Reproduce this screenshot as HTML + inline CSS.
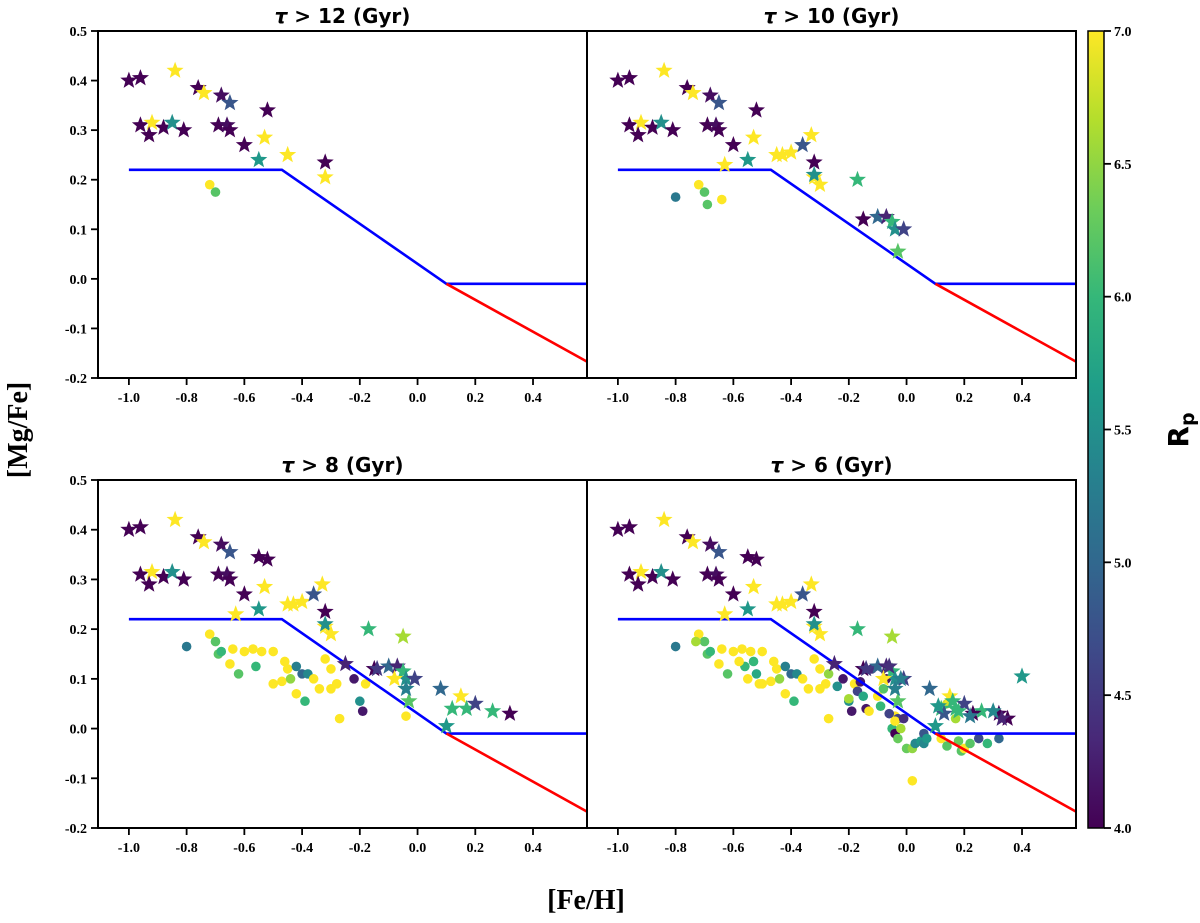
<!DOCTYPE html>
<html><head><meta charset="utf-8"><style>
body{margin:0;background:#fff;}
svg text{font-family:"Liberation Serif",serif;font-weight:bold;}
</style></head><body>
<svg id="c" width="1200" height="918" xmlns="http://www.w3.org/2000/svg"></svg>
<script>
const starFe = [-1.0,-0.96,-0.84,-0.76,-0.74,-0.68,-0.65,-0.96,-0.92,-0.93,-0.88,-0.85,-0.81,-0.69,-0.66,-0.65,-0.52,-0.53,-0.6,-0.55,-0.45,-0.32,-0.32,
 -0.63,-0.43,-0.40,-0.36,-0.33,-0.32,-0.30,-0.17,-0.15,-0.10,-0.07,-0.05,-0.04,-0.01,-0.03,
 -0.55,0.08,0.12,0.10,0.15,0.17,0.20,0.26,0.32,-0.05,-0.04,-0.08,-0.25,-0.14,
 0.40,0.35,0.33,0.30,0.23,0.22,0.18,0.13,-0.02,-0.06,0.16,0.11];
const starMg = [0.40,0.405,0.42,0.385,0.375,0.37,0.355,0.31,0.315,0.29,0.305,0.315,0.30,0.31,0.31,0.30,0.34,0.285,0.27,0.24,0.25,0.235,0.205,
 0.23,0.25,0.255,0.27,0.29,0.21,0.19,0.20,0.12,0.125,0.125,0.115,0.10,0.10,0.055,
 0.345,0.08,0.04,0.005,0.065,0.04,0.05,0.035,0.03,0.185,0.08,0.10,0.13,0.12,
 0.105,0.02,0.02,0.035,0.03,0.025,0.035,0.03,0.10,0.125,0.055,0.045];
const starRp = [4.0,4.0,7.0,4.0,7.0,4.1,4.8,4.0,7.0,4.0,4.0,5.5,4.0,4.0,4.1,4.0,4.0,7.0,4.0,5.6,7.0,4.0,7.0,
 7.0,7.0,7.0,4.8,7.0,5.5,7.0,6.0,4.0,5.0,4.3,6.0,5.5,4.6,6.2,
 4.0,5.0,6.0,5.6,7.0,6.0,4.6,6.0,4.0,6.6,5.3,7.0,4.3,4.5,
 5.6,4.0,4.3,5.4,4.0,5.2,6.0,4.8,5.3,4.4,6.0,5.6];
const starAge = [12,12,12,12,12,12,12,12,12,12,12,12,12,12,12,12,12,12,12,12,12,12,12,
 10,10,10,10,10,10,10,10,10,10,10,10,10,10,10,
 8,8,8,8,8,8,8,8,8,8,8,8,8,8,
 6,6,6,6,6,6,6,6,6,6,6,6];
const circFe = [-0.72,-0.70,
 -0.80,-0.69,-0.64,
 -0.68,-0.65,-0.60,-0.62,-0.57,-0.56,-0.54,-0.50,-0.50,-0.47,-0.46,-0.45,-0.44,-0.42,-0.42,-0.40,-0.38,-0.39,-0.36,-0.34,-0.30,-0.30,-0.32,-0.28,-0.27,-0.22,-0.20,-0.19,-0.04,-0.18,
 -0.16,-0.17,-0.15,-0.14,-0.13,-0.10,-0.09,-0.06,-0.05,-0.04,-0.03,-0.02,-0.04,-0.01,-0.03,0.00,0.02,0.03,0.05,0.06,0.06,0.07,0.02,0.12,0.14,0.18,0.19,0.20,0.22,0.25,0.28,0.32,-0.20,-0.24,-0.27,-0.08,0.17,0.14,-0.73,-0.58,-0.55,-0.53,-0.51,-0.52,-0.12,-0.07];
const circMg = [0.19,0.175,
 0.165,0.15,0.16,
 0.155,0.13,0.155,0.11,0.16,0.125,0.155,0.155,0.09,0.095,0.135,0.12,0.10,0.125,0.07,0.11,0.11,0.055,0.10,0.08,0.12,0.08,0.14,0.09,0.02,0.10,0.055,0.035,0.025,0.09,
 0.094,0.075,0.065,0.04,0.035,0.065,0.045,0.03,0.0,-0.01,0.02,0.0,0.015,0.02,-0.02,-0.04,-0.04,-0.03,-0.025,-0.03,-0.01,-0.02,-0.105,-0.02,-0.035,-0.025,-0.045,-0.04,-0.03,-0.02,-0.03,-0.02,0.06,0.085,0.11,0.08,0.02,0.05,0.175,0.135,0.10,0.135,0.09,0.11,0.12,0.10];
const circRp = [7.0,6.2,
 5.2,6.2,7.0,
 6.0,7.0,7.0,6.2,7.0,6.0,7.0,7.0,7.0,7.0,7.0,7.0,6.5,5.3,7.0,5.0,5.4,6.0,7.0,7.0,7.0,7.0,7.0,7.0,7.0,4.2,5.5,4.2,7.0,7.0,
 4.2,4.6,5.8,4.2,7.0,7.0,6.0,4.6,6.0,4.0,4.6,6.6,7.0,4.4,6.3,6.3,6.5,5.4,5.6,5.4,4.8,5.6,7.0,7.0,6.2,6.3,6.2,7.0,6.2,4.7,6.0,5.0,6.6,5.5,6.5,6.2,6.6,6.8,6.6,7.0,7.0,6.0,7.0,5.8,4.4,4.2];
const circAge = [12,12,
 10,10,10,
 8,8,8,8,8,8,8,8,8,8,8,8,8,8,8,8,8,8,8,8,8,8,8,8,8,8,8,8,8,8,
 6,6,6,6,6,6,6,6,6,6,6,6,6,6,6,6,6,6,6,6,6,6,6,6,6,6,6,6,6,6,6,6,6,6,6,6,6,6,6,6,6,6,6,6,6,6];
const panelAges = [12,10,8,6];
const panelTitles = ["12","10","8","6"];
const xTicks = [-1.0,-0.8,-0.6,-0.4,-0.2,0.0,0.2,0.4];
const yTicks = [-0.2,-0.1,0.0,0.1,0.2,0.3,0.4,0.5];
const blueX = [-1.0,-0.47,0.1,0.587];
const blueY = [0.22,0.22,-0.01,-0.01];
const redX = [0.1,0.587];
const redY = [-0.01,-0.167];
const cbTicks = [4.0,4.5,5.0,5.5,6.0,6.5,7.0];

const NS="http://www.w3.org/2000/svg", svg=document.getElementById('c');
function mk(t,a,p){const e=document.createElementNS(NS,t);for(const k in a)e.setAttribute(k,a[k]);(p||svg).appendChild(e);return e;}
const vir=[[68,1,84],[72,40,120],[62,74,137],[49,104,142],[38,130,142],[31,158,137],[53,183,121],[109,205,89],[180,222,44],[253,231,37]];
function cmap(v){let t=Math.max(0,Math.min(1,(v-4)/3))*9;const i=Math.min(8,Math.floor(t)),f=t-i;const a=vir[i],b=vir[i+1];
 return `rgb(${a.map((c,k)=>Math.round(c+(b[k]-c)*f)).join(',')})`;}
function starPath(cx,cy,R){let d='';for(let k=0;k<10;k++){const r=k%2?R*0.42:R;const an=-Math.PI/2+k*Math.PI/5;d+=(k?'L':'M')+(cx+r*Math.cos(an)).toFixed(1)+','+(cy+r*Math.sin(an)).toFixed(1);}return d+'Z';}

const panels=[{x0:98,x1:587,y0:31,y1:378},{x0:587,x1:1076,y0:31,y1:378},{x0:98,x1:587,y0:480,y1:828},{x0:587,x1:1076,y0:480,y1:828}];
const XMIN=-1.107,XMAX=0.587,YMIN=-0.2,YMAX=0.5;
panels.forEach((P,pi)=>{
 const sx=v=>P.x0+(v-XMIN)/(XMAX-XMIN)*(P.x1-P.x0);
 const sy=v=>P.y1-(v-YMIN)/(YMAX-YMIN)*(P.y1-P.y0);
 const g=mk('g',{});
 
 
 const age=panelAges[pi];
 const cg=mk('g',{},g);
 
 
 circFe.forEach((f,i)=>{if(circAge[i]<age)return;const c=mk('circle',{cx:sx(f),cy:sy(circMg[i]),r:4.8,fill:cmap(circRp[i])},cg);
  
  });
 let pts=blueX.map((v,i)=>sx(v)+','+sy(blueY[i])).join(' ');
 const bl=mk('polyline',{points:pts,fill:'none',stroke:'#0000ff','stroke-width':2.6},g);
 
 
 pts=redX.map((v,i)=>sx(v)+','+sy(redY[i])).join(' ');
 const rl=mk('polyline',{points:pts,fill:'none',stroke:'#ff0000','stroke-width':2.6},g);
 
 
 const sg=mk('g',{},g);
 
 
 starFe.forEach((f,i)=>{if(starAge[i]<age)return;const s=mk('path',{d:starPath(sx(f),sy(starMg[i]),9),fill:cmap(starRp[i])},sg);
  
  });
 const fr=mk('rect',{x:P.x0,y:P.y0,width:P.x1-P.x0,height:P.y1-P.y0,fill:'none',stroke:'#000','stroke-width':2},g);
 
 
 xTicks.forEach(v=>{const x=sx(v);mk('line',{x1:x,x2:x,y1:P.y1,y2:P.y1+7,stroke:'#000','stroke-width':1.8},g);
  const t=mk('text',{x:x,y:P.y1+24,'text-anchor':'middle','font-size':14},g);t.textContent=v.toFixed(1);
  
  });
 if(pi%2==0) yTicks.forEach(v=>{const y=sy(v);mk('line',{x1:P.x0-7,x2:P.x0,y1:y,y2:y,stroke:'#000','stroke-width':1.8},g);
  const t=mk('text',{x:P.x0-11,y:y+5,'text-anchor':'end','font-size':14},g);t.textContent=v.toFixed(1);
  
  });
 const ti=mk('text',{x:(P.x0+P.x1)/2,y:P.y0-8,'text-anchor':'middle','font-size':20,style:'font-family:"DejaVu Sans",sans-serif'},g);
 ti.innerHTML='<tspan font-style="italic">τ</tspan> &gt; '+panelTitles[pi]+' (Gyr)';
 
 
});
const defs=mk('defs',{});const lg=mk('linearGradient',{id:'vg',x1:0,y1:1,x2:0,y2:0},defs);
vir.forEach((c,i)=>mk('stop',{offset:i/9,'stop-color':`rgb(${c})`},lg));
const cb=mk('rect',{x:1088,y:31,width:16,height:797,fill:'url(#vg)',stroke:'#000','stroke-width':1.5});


cbTicks.forEach(v=>{const y=828-(v-4)/3*797;mk('line',{x1:1104,x2:1111,y1:y,y2:y,stroke:'#000','stroke-width':1.8});
 const t=mk('text',{x:1114,y:y+5,'font-size':14});t.textContent=v.toFixed(1);
 
 });
const cl=mk('text',{x:1188,y:430,'font-size':28,transform:'rotate(-90 1188 430)','text-anchor':'middle',style:'font-family:"DejaVu Sans",sans-serif'});
cl.innerHTML='R<tspan font-size="19" dy="6">p</tspan>';


const yl=mk('text',{x:27,y:430,'font-size':28,transform:'rotate(-90 27 430)','text-anchor':'middle'});yl.textContent='[Mg/Fe]';


const xl=mk('text',{x:586,y:909,'font-size':28,'text-anchor':'middle'});xl.textContent='[Fe/H]';


</script>
</body></html>
